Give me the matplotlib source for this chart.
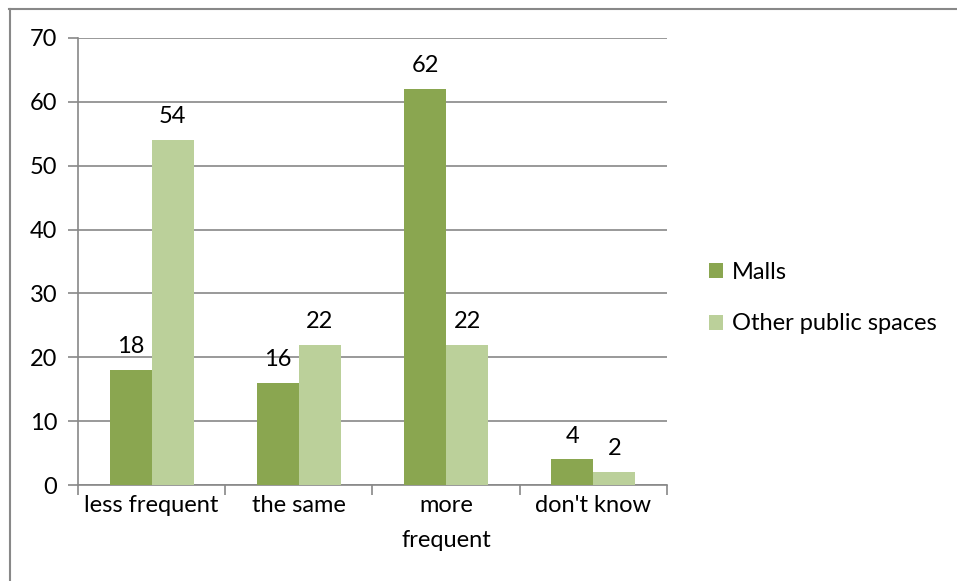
import matplotlib
matplotlib.use("Agg")
import matplotlib.pyplot as plt
import numpy as np
from matplotlib.lines import Line2D

categories = ["less frequent", "the same", "more\nfrequent", "don't know"]
malls = [18, 16, 62, 4]
other = [54, 22, 22, 2]
series_names = ["Malls", "Other public spaces"]
colors = ["#8AA650", "#BBD09A"]

plt.rcParams['font.family'] = ['Lato', 'DejaVu Sans']
FS = 17

W, H = 957, 581
fig = plt.figure(figsize=(W/100, H/100), dpi=100)
ax = fig.add_axes([78/W, 1-485/H, (667-78)/W, (485-38)/H])

x = np.arange(len(categories))
bw = 0.285
b1 = ax.bar(x - bw/2, malls, bw, color=colors[0], label=series_names[0], zorder=3)
b2 = ax.bar(x + bw/2, other, bw, color=colors[1], label=series_names[1], zorder=3)
for bars, vals in ((b1, malls), (b2, other)):
    for rect, v in zip(bars, vals):
        ax.text(rect.get_x() + rect.get_width()/2, v + 2.0, str(v),
                ha='center', va='bottom', fontsize=FS, color='black')

ax.set_xlim(-0.5, len(categories) - 0.5)
ax.set_ylim(0, 70)
ax.set_yticks(range(0, 71, 10))
ax.yaxis.grid(True, color='#888888', linewidth=1.2, zorder=0)
ax.set_axisbelow(True)
for s in ['top', 'right']:
    ax.spines[s].set_visible(False)
for s in ['left', 'bottom']:
    ax.spines[s].set_color('#888888')
    ax.spines[s].set_linewidth(1.2)

ax.set_xticks(np.arange(-0.5, len(categories), 1.0))
ax.set_xticklabels([])
ax.set_xticks(x, minor=True)
ax.set_xticklabels(categories, minor=True, fontsize=FS, linespacing=1.85)
ax.tick_params(axis='x', which='major', length=7, color='#888888', width=1.2, direction='out')
ax.tick_params(axis='x', which='minor', length=0, pad=7)
ax.tick_params(axis='y', length=7, color='#888888', width=1.2, labelsize=FS, pad=8)

leg = fig.legend(handles=[b1, b2], labels=series_names, loc='center left',
                 bbox_to_anchor=(688/W, 1-298/H), frameon=False, fontsize=FS,
                 handlelength=0.6, handleheight=0.6, handletextpad=0.35,
                 labelspacing=1.3)

# outer border (top and left visible)
fig.add_artist(Line2D([9/W, 1], [1-8.5/H, 1-8.5/H], transform=fig.transFigure, color='#888888', linewidth=1.5))
fig.add_artist(Line2D([9.5/W, 9.5/W], [0, 1-8.5/H], transform=fig.transFigure, color='#888888', linewidth=1.5))

fig.savefig("out.png", dpi=100)
